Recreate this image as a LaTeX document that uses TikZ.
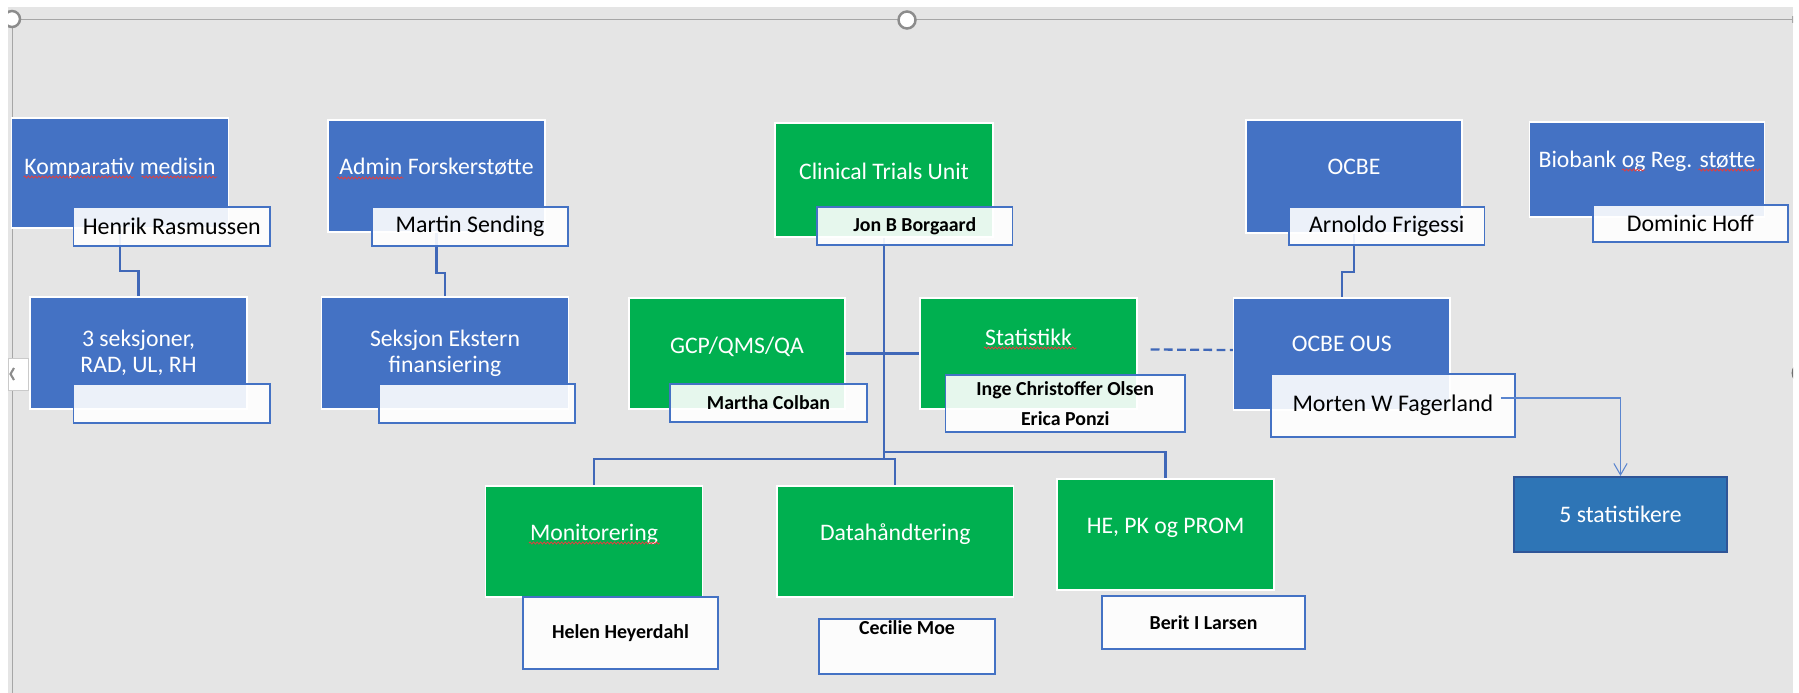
\documentclass[tikz,border=0pt]{standalone}
\usepackage{fontspec}
\setmainfont{Carlito}
\usetikzlibrary{arrows.meta,decorations.pathmorphing}

\newlength\pxu
\setlength\pxu{0.02cm}

\definecolor{boxblue}{HTML}{4472C4}
\definecolor{boxgreen}{HTML}{00B050}
\definecolor{darkblue}{HTML}{2E75B6}
\definecolor{edgeblue}{HTML}{2F5597}
\definecolor{linkblue}{HTML}{4068B8}
\definecolor{lineblue}{HTML}{5A85CF}
\definecolor{canvasgray}{HTML}{E5E5E5}
\definecolor{framegray}{HTML}{A6A6A6}
\definecolor{ringgray}{HTML}{8C8C8C}
\definecolor{spellred}{HTML}{E04040}

\tikzset{
  unitbox/.style={rectangle, inner sep=0pt, align=center, draw=white, line width=0.8pt},
  bluebox/.style={unitbox, fill=boxblue, text=white, font=\fontsize{13.5}{14.8}\selectfont},
  greenbox/.style={unitbox, fill=boxgreen, text=white, font=\fontsize{13.5}{14.8}\selectfont},
  namebox/.style={rectangle, inner sep=0pt, align=center, draw=boxblue, line width=1.1pt,
    fill=white, fill opacity=0.9, text opacity=1, text=black, font=\fontsize{13.6}{20}\selectfont},
  boldname/.style={namebox, font=\fontsize{11.3}{17}\selectfont\bfseries},
  boxsize/.style 2 args={minimum width=#1\pxu, minimum height=#2\pxu},
  lift/.style={text height=18\pxu, text depth=#1\pxu},
  link/.style={draw=linkblue, line width=1.3pt},
  thinlink/.style={draw=lineblue, line width=0.6pt},
  spellmark/.style={draw=spellred, line width=0.45pt, decorate,
    decoration={snake, amplitude=0.6pt, segment length=2pt}}
}

\begin{document}
\begin{tikzpicture}[x=0.02cm, y=-0.02cm, >={Straight Barb[length=6.5pt, width=7.5pt]}]
  \useasboundingbox (0,0) rectangle (1799,693);
  \fill[white] (0,0) rectangle (1799,693);
  \fill[canvasgray] (8,7) rectangle (1793,693);

  % slide frame and handles
  \begin{scope}
    \clip (8,7) rectangle (1793,693);
    \draw[framegray, line width=0.9pt] (12,19.5) -- (1793,19.5);
    \draw[framegray, line width=0.9pt] (1793,16) -- (1793,23);
    \draw[framegray, line width=0.9pt] (12.5,19) -- (12.5,693);
    \draw[ringgray, fill=white, line width=1.4pt] (12,19) circle (8);
    \draw[ringgray, fill=white, line width=1.4pt] (907,20) circle (8.5);
    \draw[framegray!60, fill=white, line width=0.4pt] (8,358) rectangle (28,390);
    \draw[ringgray, line width=1.2pt] (14,368) -- (10.5,374) -- (14,380);
    \draw[ringgray!80!black, line width=0.9pt] (1795,366) .. controls (1791.5,370) and (1791.5,376) .. (1795,380);
  \end{scope}

  % main units
  \node[bluebox, boxsize={217}{110}, lift=16] (komp) at (120,173) {Komparativ medisin};
  \node[bluebox, boxsize={217}{112}] (sek3) at (138.5,353) {3 seksjoner,\\RAD, UL, RH};
  \node[bluebox, boxsize={217}{112}, lift=22] (admin) at (436.5,176) {Admin Forskerstøtte};
  \node[bluebox, boxsize={247.5}{112}] (ekst) at (445,353) {Seksjon Ekstern\\finansiering};
  \node[greenbox, boxsize={218}{114}, lift=20] (ctu) at (884,180) {Clinical Trials Unit};
  \node[greenbox, boxsize={216}{111}, lift=19] (gcp) at (737,353.5) {GCP/QMS/QA};
  \node[greenbox, boxsize={217}{111}, lift=35] (stat) at (1028.5,353.5) {Statistikk};
  \node[greenbox, boxsize={217}{111}, lift=21] (mon) at (594,541.5) {Monitorering};
  \node[greenbox, boxsize={236.6}{111}, lift=21] (data) at (895.3,541.5) {Datahåndtering};
  \node[greenbox, boxsize={217}{111}, lift=21] (he) at (1165.5,534.5) {HE, PK og PROM};
  \node[bluebox, boxsize={216}{113}, lift=23] (ocbe) at (1354,176.5) {OCBE};
  \node[bluebox, boxsize={216.4}{112}, lift=24] (ous) at (1341.8,354) {OCBE OUS};
  \node[bluebox, boxsize={235}{95}, lift=23] (bio) at (1647,169.5) {Biobank og Reg. støtte};
  \node[bluebox, boxsize={213}{75}, fill=darkblue, draw=edgeblue, line width=1.2pt] (stat5) at (1620.5,514.5) {5 statistikere};

  % lines
  \draw[link] (komp.south) -- ([yshift=-42\pxu]komp.south) -| (sek3.north);
  \draw[link] (admin.south) -- ([yshift=-40\pxu]admin.south) -| (ekst.north);
  \draw[link] (ocbe.south) -- ([yshift=-38.5\pxu]ocbe.south) -| (ous.north);
  \coordinate (busleft) at (884,459);
  \coordinate (busright) at (884,452);
  \draw[link] (ctu.south) -- (busleft);
  \draw[link] (busleft) -| (mon.north);
  \draw[link] (busleft) -| (data.north);
  \draw[link] (busright) -| (he.north);
  \draw[link] (gcp.east) -- (stat.west);
  \draw[link, dash pattern=on 5pt off 2.5pt] ([xshift=13\pxu, yshift=4\pxu]stat.east) -- ([yshift=4\pxu]ous.west);

  % leaders
  \node[namebox, boxsize={196.5}{39}] (henrik) at (171.75,226.5) {Henrik Rasmussen};
  \node[namebox, boxsize={196.5}{39}] (sek3note) at (171.75,403.5) {};
  \node[namebox, boxsize={196}{39}] (martin) at (470,226.5) {Martin Sending};
  \node[namebox, boxsize={196}{39}] (ekstnote) at (477,403.5) {};
  \node[boldname, boxsize={195.5}{38}] (jon) at (914.75,226) {Jon B Borgaard};
  \node[boldname, boxsize={197}{38}] (martha) at (768.5,403) {Martha Colban};
  \node[boldname, boxsize={239.5}{57}] (inge) at (1065.25,403.5) {Inge Christoffer Olsen\\Erica Ponzi};
  \node[namebox, boxsize={195.5}{38}] (arnoldo) at (1386.75,226) {Arnoldo Frigessi};
  \node[namebox, boxsize={195.3}{37}] (dominic) at (1690.35,223.5) {Dominic Hoff};
  \node[namebox, boxsize={244.3}{63}] (morten) at (1392.85,405.5) {Morten W Fagerland};
  \node[boldname, boxsize={195}{72}] (helen) at (620.5,633) {Helen Heyerdahl};
  \node[boldname, boxsize={176}{55}] (cecilie) at (907,646.5) {Cecilie Moe\\\strut};
  \node[boldname, boxsize={203}{53}] (berit) at (1203.5,622.5) {Berit I Larsen};

  \draw[thinlink, ->] ([xshift=-15\pxu, yshift=7.5\pxu]morten.east) -| (stat5.north);

  % spelling marks
  \draw[spellmark] (23.7,177) -- (134,177);
  \draw[spellmark] (141.6,177) -- (217.4,177);
  \draw[spellmark] (336.8,178) -- (403.7,178);
  \draw[spellmark] (1622,170) -- (1645,170);
  \draw[spellmark] (1698.5,170) -- (1760.7,170);
  \draw[spellmark] (983.8,348) -- (1076.5,348);
  \draw[spellmark] (529,543) -- (659.5,543);
\end{tikzpicture}
\end{document}
